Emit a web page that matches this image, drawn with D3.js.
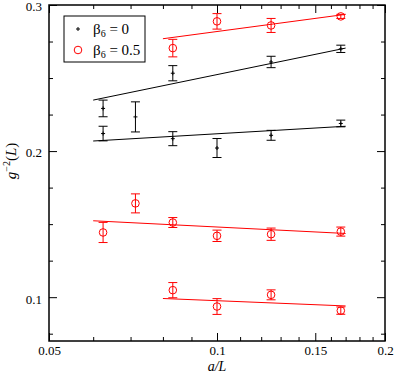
<!DOCTYPE html>
<html>
<head>
<meta charset="utf-8">
<script src="https://cdn.jsdelivr.net/npm/d3@7"></script>
<style>
  body { margin: 0; background: #fff; }
</style>
</head>
<body>
<div id="chart"></div>
<script>
// beta6 = 0, upper and lower branches (x = a/L)
var blackUpperX = [1/16, 1/14, 1/12, 1/8, 1/6];
var blackUpperY = [0.2292, 0.2234, 0.2533, 0.2610, 0.2700];
var blackUpperErr = [0.0057, 0.0103, 0.0052, 0.0039, 0.0025];
var blackLowerX = [1/16, 1/12, 1/10, 1/8, 1/6];
var blackLowerY = [0.2120, 0.2085, 0.2021, 0.2108, 0.2189];
var blackLowerErr = [0.0050, 0.0048, 0.0065, 0.0034, 0.0023];

// beta6 = 0.5, three branches
var redTopX = [1/12, 1/10, 1/8, 1/6];
var redTopY = [0.2705, 0.2888, 0.2860, 0.2922];
var redTopErr = [0.0060, 0.0053, 0.0048, 0.0014];
var redMidX = [1/16, 1/14, 1/12, 1/10, 1/8, 1/6];
var redMidY = [0.1443, 0.1642, 0.1511, 0.1420, 0.1431, 0.1449];
var redMidErr = [0.0069, 0.0065, 0.0034, 0.0039, 0.0042, 0.0031];
var redLowX = [1/12, 1/10, 1/8, 1/6];
var redLowY = [0.1048, 0.0936, 0.1016, 0.0908];
var redLowErr = [0.0052, 0.0054, 0.0034, 0.0025];

// fit lines (end points)
var fitBlackUpper = [[0.06, 0.2349], [0.17, 0.2705]];
var fitBlackLower = [[0.06, 0.2069], [0.17, 0.2170]];
var fitRedTop = [[0.08, 0.2769], [0.17, 0.2936]];
var fitRedMid = [[0.06, 0.1523], [0.17, 0.1436]];
var fitRedLow = [[0.08, 0.0991], [0.17, 0.0940]];

var xMajor = [0.05, 0.1, 0.15, 0.2];
var xMinor = [0.06, 0.07, 0.08, 0.09, 0.11, 0.12, 0.13, 0.14, 0.16, 0.17, 0.18, 0.19];
var yMajor = [0.1, 0.2, 0.3];
var yMinor = [0.075, 0.125, 0.15, 0.175, 0.225, 0.25, 0.275];

var margin = {top: 5, right: 10, bottom: 32, left: 49},
    width = 385 - margin.left,
    height = 341 - margin.top;

var svg = d3.select("#chart").append("svg")
    .attr("width", 395)
    .attr("height", 373)
    .attr("font-family", "Liberation Serif")
  .append("g")
    .attr("transform", "translate(" + margin.left + "," + margin.top + ")");

var x = d3.scaleLog().domain([0.05, 0.2]).range([0, width]);
var y = d3.scaleLinear().domain([0.07, 0.3]).range([height, 0]);

var fmt = function(d) { return String(+d.toFixed(3)); };

// axes: major with labels, minor without, mirrored on top/right
function addAxis(axisFn, scale, vals, size, label, transform, pad) {
  var a = axisFn(scale).tickValues(vals).tickSizeInner(size).tickSizeOuter(0);
  if (label) a.tickFormat(fmt).tickPadding(pad || 7); else a.tickFormat("");
  var g = svg.append("g").attr("transform", transform || null).call(a);
  g.attr("font-family", "Liberation Serif").attr("font-size", 13);
  g.select(".domain").remove();
  g.selectAll("line").attr("stroke", "#000").attr("stroke-width", 1);
  g.selectAll("text").attr("fill", "#000");
  return g;
}

addAxis(d3.axisBottom, x, xMajor, -8, true, "translate(0," + height + ")", 5);
addAxis(d3.axisBottom, x, xMinor, -4, false, "translate(0," + height + ")");
addAxis(d3.axisTop, x, xMajor, -8, false);
addAxis(d3.axisTop, x, xMinor, -4, false);
var yl0 = addAxis(d3.axisLeft, y, yMajor, -8, true);
yl0.selectAll("text").attr("dy", "0.45em");
addAxis(d3.axisLeft, y, yMinor, -4, false);
addAxis(d3.axisRight, y, yMajor, -8, false, "translate(" + width + ",0)");
addAxis(d3.axisRight, y, yMinor, -4, false, "translate(" + width + ",0)");

svg.append("rect")
    .attr("width", width).attr("height", height)
    .attr("fill", "none").attr("stroke", "#000").attr("stroke-width", 1.5);

// fit lines
var line = d3.line().x(function(d) { return x(d[0]); }).y(function(d) { return y(d[1]); });
[[fitBlackUpper, "#000"], [fitBlackLower, "#000"], [fitRedTop, "#f00"],
 [fitRedMid, "#f00"], [fitRedLow, "#f00"]].forEach(function(f) {
  svg.append("path").datum(f[0]).attr("d", line)
    .attr("fill", "none").attr("stroke", f[1]).attr("stroke-width", 1);
});

function zip(xs, ys, es) {
  return xs.map(function(v, i) { return {x: v, y: ys[i], e: es[i]}; });
}

function errorBars(data, color) {
  var g = svg.append("g").attr("stroke", color).attr("stroke-width", 1).attr("fill", "none");
  data.forEach(function(d) {
    var cx = x(d.x), y0 = y(d.y - d.e), y1 = y(d.y + d.e);
    g.append("line").attr("x1", cx).attr("x2", cx).attr("y1", y0).attr("y2", y1);
    g.append("line").attr("x1", cx - 4.5).attr("x2", cx + 4.5).attr("y1", y0).attr("y2", y0);
    g.append("line").attr("x1", cx - 4.5).attr("x2", cx + 4.5).attr("y1", y1).attr("y2", y1);
  });
}

function plusMarks(data) {
  svg.append("g").selectAll("path").data(data).enter().append("path")
    .attr("d", function(d) {
      var cx = x(d.x), cy = y(d.y);
      return "M" + (cx - 2) + "," + cy + "H" + (cx + 2) + "M" + cx + "," + (cy - 2) + "V" + (cy + 2);
    })
    .attr("stroke", "#000").attr("stroke-width", 1);
}

function circleMarks(data) {
  svg.append("g").selectAll("circle").data(data).enter().append("circle")
    .attr("cx", function(d) { return x(d.x); })
    .attr("cy", function(d) { return y(d.y); })
    .attr("r", 3.8)
    .attr("fill", "none").attr("stroke", "#f00").attr("stroke-width", 1);
}

var bu = zip(blackUpperX, blackUpperY, blackUpperErr),
    bl = zip(blackLowerX, blackLowerY, blackLowerErr);
errorBars(bu, "#000"); errorBars(bl, "#000");
plusMarks(bu); plusMarks(bl);

[zip(redTopX, redTopY, redTopErr), zip(redMidX, redMidY, redMidErr),
 zip(redLowX, redLowY, redLowErr)].forEach(function(s) {
  errorBars(s, "#f00");
  circleMarks(s);
});

// legend
var lg = svg.append("g").attr("transform", "translate(" + (64 - margin.left) + "," + (16 - margin.top) + ")");
lg.append("rect").attr("width", 81).attr("height", 46)
  .attr("fill", "#fff").attr("stroke", "#000").attr("stroke-width", 1);
lg.append("path").attr("d", "M12,13H16M14,11V15").attr("stroke", "#000");
lg.append("circle").attr("cx", 14).attr("cy", 34).attr("r", 3.8)
  .attr("fill", "none").attr("stroke", "#f00");
function legText(yy, val) {
  var t = lg.append("text").attr("x", 29).attr("y", yy).attr("font-size", 15).attr("fill", "#000");
  t.append("tspan").text("\u03b2");
  t.append("tspan").attr("font-size", 10).attr("dy", 3).text("6");
  t.append("tspan").attr("dy", -3).text(" = " + val);
}
legText(18, "0");
legText(39, "0.5");

// axis titles
svg.append("text")
    .attr("x", x(0.1)).attr("y", height + 29.5)
    .attr("text-anchor", "middle").attr("font-size", 14).attr("font-style", "italic")
    .text("a/L");

var yl = svg.append("text")
    .attr("transform", "translate(" + (-33) + "," + (height / 2 - 12) + ") rotate(-90)")
    .attr("text-anchor", "middle").attr("font-size", 15);
yl.append("tspan").attr("font-style", "italic").text("g");
yl.append("tspan").attr("font-size", 10).attr("dy", -6).text("\u22122");
yl.append("tspan").attr("dy", 6).text("(");
yl.append("tspan").attr("font-style", "italic").text("L");
yl.append("tspan").text(")");
</script>
</body>
</html>
